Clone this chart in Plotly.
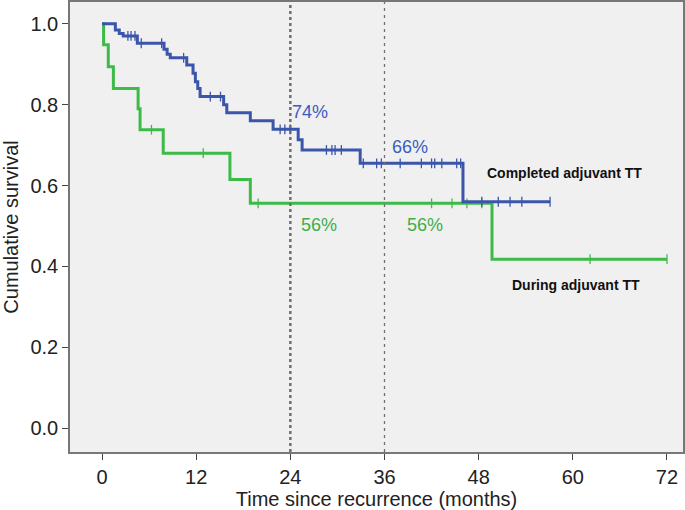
import plotly.graph_objects as go
import numpy as np

# ---- data ----
completed_t = [0, 1.7, 2.2, 2.7, 4.5, 7.9, 8.3, 8.7, 10.8, 11.6, 11.9, 12.2, 12.5,
               15.5, 15.9, 18.9, 21.8, 25.0, 25.5, 32.9, 46.0, 57.1]
completed_s = [1.0, 0.985, 0.976, 0.970, 0.952, 0.937, 0.925, 0.916, 0.898, 0.878,
               0.857, 0.84, 0.82, 0.80, 0.78, 0.76, 0.739, 0.713, 0.688, 0.655, 0.56, 0.56]
completed_censor = [3.3, 3.7, 4.2, 5.0, 7.6, 10.4, 13.8, 15.1, 22.7, 23.3, 24.0,
                    28.6, 29.3, 29.7, 30.5, 33.3, 35.0, 35.6, 38.0, 40.7, 42.0, 42.4,
                    43.3, 45.2, 45.7, 48.4, 50.5, 52.0, 53.5, 57.1]

during_t = [0, 0.2, 0.8, 1.45, 4.6, 4.85, 7.8, 16.3, 18.9, 49.7, 72]
during_s = [1.0, 0.948, 0.894, 0.84, 0.79, 0.738, 0.68, 0.615, 0.556, 0.418, 0.418]
during_censor = [6.3, 12.9, 19.9, 42.0, 44.6, 46.5, 48.4, 62.2, 72.0]

x_ticks = [0, 12, 24, 36, 48, 60, 72]
y_ticks = [0.0, 0.2, 0.4, 0.6, 0.8, 1.0]
ref_times = [24, 36]

BLUE = "#3b55ab"
GREEN = "#3dbb48"
BLUE_TXT = "#3a5cc0"
GREEN_TXT = "#3fae4a"
FONT = "Liberation Sans, Arial"


def step_value(times, surv, t):
    idx = np.searchsorted(np.array(times), t, side="right") - 1
    return surv[max(idx, 0)]


fig = go.Figure()

for t_, s_, cens, col in [(during_t, during_s, during_censor, GREEN),
                          (completed_t, completed_s, completed_censor, BLUE)]:
    fig.add_trace(go.Scatter(x=t_, y=s_, mode="lines", line_shape="hv",
                             line=dict(color=col, width=3), showlegend=False,
                             hoverinfo="skip"))
    fig.add_trace(go.Scatter(x=cens, y=[step_value(t_, s_, c) for c in cens],
                             mode="markers", showlegend=False,
                             marker=dict(symbol="line-ns", size=7,
                                         line=dict(color=col, width=1.3))))

# reference lines at 24 and 36 months
fig.add_shape(type="line", xref="x", yref="paper", x0=ref_times[0], x1=ref_times[0],
              y0=0, y1=1, line=dict(color="#6e6e6e", width=2.5, dash="dot"))
fig.add_shape(type="line", xref="x", yref="paper", x0=ref_times[1], x1=ref_times[1],
              y0=0, y1=1, line=dict(color="#6e6e6e", width=1.3, dash="3px,4px"))

ann = [
    ("74%", 26.5, 0.783, BLUE_TXT, 18, False),
    ("66%", 39.25, 0.696, BLUE_TXT, 18, False),
    ("56%", 27.6, 0.502, GREEN_TXT, 18, False),
    ("56%", 41.2, 0.502, GREEN_TXT, 18, False),
    ("Completed adjuvant TT", 59.0, 0.631, "#111111", 14, True),
    ("During adjuvant TT", 60.4, 0.354, "#111111", 14, True),
]
for txt, x, y, c, sz, b in ann:
    fig.add_annotation(x=x, y=y, xref="x", yref="y", showarrow=False,
                       text=f"<b>{txt}</b>" if b else txt,
                       font=dict(color=c, size=sz, family=FONT))

fig.update_layout(
    width=685, height=510,
    margin=dict(l=70, r=2, t=2, b=58, autoexpand=False),
    paper_bgcolor="white", plot_bgcolor="#f0f0f0",
    font=dict(family=FONT, color="#222222", size=20),
)
fig.update_xaxes(range=[-4.08, 74.04], tickvals=x_ticks, ticks="outside", ticklen=6,
                 tickcolor="#444", showgrid=False, zeroline=False, automargin=False,
                 showline=True, linecolor="#777", linewidth=1.5, mirror=True,
                 tickfont=dict(size=20),
                 title=dict(text="Time since recurrence (months)", font=dict(size=20),
                            standoff=6))
fig.update_yaxes(range=[-0.059, 1.054], tickvals=y_ticks, tickformat=".1f",
                 ticks="outside", ticklen=6, tickcolor="#444", showgrid=False,
                 zeroline=False, showline=True, linecolor="#777", linewidth=1.5,
                 mirror=True, tickfont=dict(size=20), automargin=False,
                 title=dict(text="Cumulative survival", font=dict(size=20), standoff=6))

fig.write_html("out.html", config={"displayModeBar": False},
               post_script="document.body.style.margin='0px';")
